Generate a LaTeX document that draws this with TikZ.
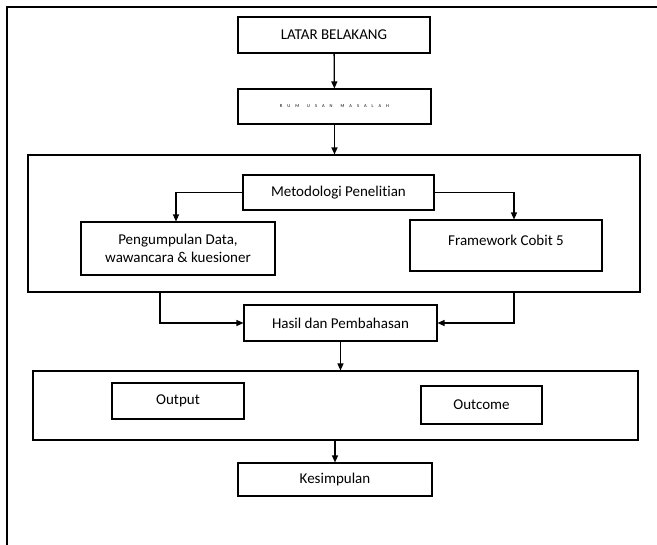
\documentclass[tikz,border=0pt]{standalone}
\usepackage{fontspec}
\setmainfont{Carlito}[Ligatures=CommonOff]
\usetikzlibrary{
		calc,
		positioning,
		arrows.meta
	}
\tikzset{
		>={Triangle[length=7pt,width=6pt]},
		kotak/.style={draw,line width=1.1pt,fill=white,align=center,inner sep=0pt},
		alur/.style={->,line width=1.3pt}
	}

\begin{document}
\begin{tikzpicture}[x=1pt, y=-1pt, font=\fontsize{15}{18}\selectfont] % 1 unit = 1 px of the page, y downwards
		\useasboundingbox (0,0) rectangle (657,545);
		\draw[line width=2pt] (7,545) -- (7,7) -- (657,7); % page frame
		% the two large frames
		\node[kotak, minimum width=612, minimum height=137] (blok1) at (334,223.5) {};
		\node[kotak, minimum width=605, minimum height=69] (blok2) at (335.5,405.5) {};
		% the steps
		\node[kotak, minimum width=192, minimum height=36] (latar) at (334,35) {LATAR BELAKANG};
		\node[kotak, minimum width=193, minimum height=35, font=\fontsize{4.5}{5}\selectfont] (rumusan) at (334.5,106.5)
		  {R\hspace{5pt}U\hspace{5pt}M\hspace{8pt}U\hspace{5pt}S\hspace{5pt}A\hspace{5pt}N\hspace{8pt}M\hspace{5pt}A\hspace{5pt}S\hspace{5pt}A\hspace{5pt}L\hspace{5pt}A\hspace{5pt}H};
		\node[kotak, minimum width=191, minimum height=35] (metode) at (338.5,192.5) {Metodologi Penelitian};
		\node[kotak, minimum width=194, minimum height=53] (kumpul) at (178,248.5) {Pengumpulan Data,\\wawancara \& kuesioner};
		\node[kotak, minimum width=192, minimum height=51, text depth=10pt] (cobit) at (506,245.5) {Framework Cobit 5};
		\node[kotak, minimum width=193, minimum height=36] (hasil) at (340.5,323) {Hasil dan Pembahasan};
		\node[kotak, minimum width=132, minimum height=36] (output) at (178,401) {Output};
		\node[kotak, minimum width=121, minimum height=38] (outcome) at (481.5,405) {Outcome};
		\node[kotak, minimum width=194, minimum height=33] (simpul) at (335,479.5) {Kesimpulan};
		% loose ends under the first frame
		\coordinate (kiri) at (160,292);
		\coordinate (kanan) at (514,292);
		% connectors
		\draw[alur] (latar) -- (rumusan);
		\draw[alur] (rumusan) -- (blok1.north -| rumusan);
		\draw[alur] (metode.west) -| ([xshift=-2]kumpul.north);
		\draw[alur] (metode.east) -| ([xshift=8]cobit.north);
		\draw[alur] (kiri) |- (hasil.west);
		\draw[alur] (kanan) |- (hasil.east);
		\draw[alur] (hasil.south) -- (hasil.south |- blok2.north);
		\draw[alur] (blok2.south -| simpul) -- (simpul);
	\end{tikzpicture}
\end{document}
